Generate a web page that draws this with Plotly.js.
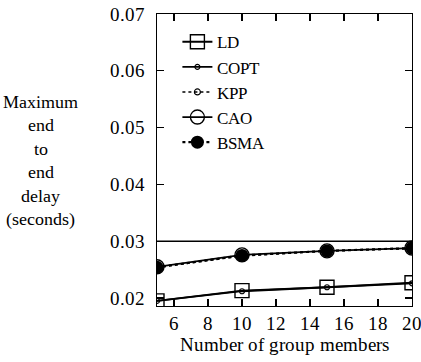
<!DOCTYPE html>
<html><head><meta charset="utf-8">
<script src="https://cdn.plot.ly/plotly-3.0.1.min.js"></script>
<style>
@font-face{font-family:'RefSerif';src:local('Liberation Serif'),local('LiberationSerif'),local('Liberation Serif Regular'),local('LiberationSerif-Regular');font-display:swap;}
body{margin:0;background:#fff}#c{width:421px;height:362px}</style>
</head><body><div id="c"></div>
<script>
const groupMembers = [5, 10, 15, 20];
const ldDelay   = [0.0195, 0.0213, 0.0219, 0.0227];
const coptDelay = [0.0195, 0.0212, 0.0219, 0.0226];
const kppDelay  = [0.0254, 0.0274, 0.0283, 0.0287];
const caoDelay  = [0.0255, 0.0276, 0.0283, 0.0288];
const bsmaDelay = [0.0254, 0.0275, 0.0283, 0.0288];
const refLineX = [5, 20];
const refLineY = [0.03, 0.03];
const xTicks = [6, 8, 10, 12, 14, 16, 18, 20];
const yTicks = [0.02, 0.03, 0.04, 0.05, 0.06, 0.07];

const F = 'RefSerif';
const FS = 19;
const traces = [
  {x: refLineX, y: refLineY, mode: 'lines', line: {color: '#000', width: 1.3}, showlegend: false, hoverinfo: 'skip'},
  {x: groupMembers, y: ldDelay, name: 'LD', mode: 'lines+markers',
   line: {color: '#000', width: 1.8}, marker: {symbol: 'square-open', size: 14, color: '#000', line: {width: 1.4}}},
  {x: groupMembers, y: coptDelay, name: 'COPT', mode: 'lines+markers',
   line: {color: '#000', width: 1.8}, marker: {symbol: 'circle-open', size: 5, color: '#000', line: {width: 1.2}}},
  {x: groupMembers, y: kppDelay, name: 'KPP', mode: 'lines+markers',
   line: {color: '#000', width: 1.5, dash: 'dot'}, marker: {symbol: 'circle-open', size: 6, color: '#000', line: {width: 1.2}}},
  {x: groupMembers, y: caoDelay, name: 'CAO', mode: 'lines+markers',
   line: {color: '#000', width: 1.8}, marker: {symbol: 'circle-open', size: 14, color: '#000', line: {width: 1.4}}},
  {x: groupMembers, y: bsmaDelay, name: 'BSMA', mode: 'lines+markers',
   line: {color: '#000', width: 2.2, dash: 'dot'}, marker: {symbol: 'circle', size: 13, color: '#000'}}
];

const layout = {
  width: 421, height: 362,
  margin: {l: 157, r: 9, t: 14, b: 56},
  paper_bgcolor: '#fff', plot_bgcolor: '#fff',
  font: {family: F, size: FS, color: '#000'},
  showlegend: true,
  legend: {x: 0.08, y: 0.965, xanchor: 'left', yanchor: 'top', bgcolor: 'rgba(0,0,0,0)',
           font: {family: F, size: 17}, tracegroupgap: 0, itemwidth: 30},
  xaxis: {range: [5, 20], tickvals: xTicks, ticktext: xTicks.map(String),
          ticks: 'inside', ticklen: 7, tickwidth: 1.3, tickcolor: '#000',
          showline: true, linecolor: '#000', linewidth: 1.4, mirror: 'allticks',
          showgrid: false, zeroline: false, tickfont: {family: F, size: FS},
          ticklabeloverflow: 'allow',
          title: {text: 'Number of group members', font: {family: F, size: FS}, standoff: 0}},
  yaxis: {range: [0.0186, 0.07], tickvals: yTicks, ticktext: yTicks.map(v => v.toFixed(2)),
          ticks: 'inside', ticklen: 7, tickwidth: 1.3, tickcolor: '#000',
          showline: true, linecolor: '#000', linewidth: 1.4, mirror: 'allticks',
          showgrid: false, zeroline: false, ticklabelstandoff: 7, tickfont: {family: F, size: FS},
          ticklabeloverflow: 'allow'},
  annotations: [{
    text: 'Maximum<br>end<br>to<br>end<br>delay<br>(seconds)',
    xref: 'paper', yref: 'paper', x: -0.455, y: 0.497, xanchor: 'center', yanchor: 'middle',
    showarrow: false, align: 'center', font: {family: F, size: 18}
  }]
};
Plotly.newPlot('c', traces, layout, {staticPlot: true});
if (document.fonts && document.fonts.load) {
  document.fonts.load('19px "RefSerif"').then(() => Plotly.redraw('c')).catch(() => {});
}
</script></body></html>
